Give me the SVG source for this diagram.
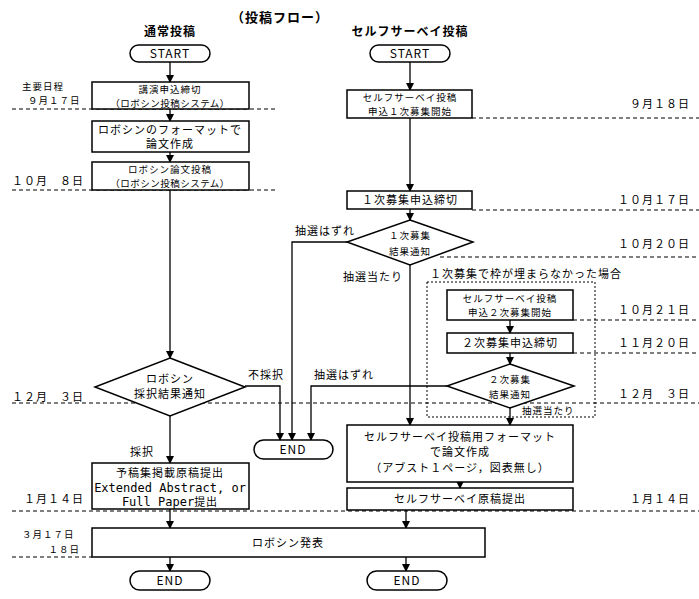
<svg xmlns="http://www.w3.org/2000/svg" width="699" height="599" viewBox="0 0 699 599">
<style>
text{font-family:"Noto Sans CJK JP","Noto Sans",sans-serif;font-size:11px;fill:#000;text-anchor:middle;letter-spacing:1px}
.l{text-anchor:start}.r{text-anchor:end}
.s{font-size:9.5px}
.b{fill:#fff;stroke:#000;stroke-width:1.5}
.c{fill:none;stroke:#000;stroke-width:1.3}
.d{stroke:#000;stroke-width:1.2;stroke-dasharray:4,3}
.dot{fill:none;stroke:#000;stroke-width:1;stroke-dasharray:2,2}
.m{font-family:"DejaVu Sans Mono","Liberation Mono",monospace;font-size:12px;letter-spacing:0}
.h{font-size:13px;font-weight:bold}
</style>
<defs><marker id="a" markerWidth="8" markerHeight="8" refX="7" refY="4" orient="auto" markerUnits="userSpaceOnUse"><path d="M0,0L8,4L0,8z"/></marker></defs>
<g id="dashes">
<line class="d" x1="12" y1="109" x2="276" y2="109"/>
<line class="d" x1="12" y1="190" x2="276" y2="190"/>
<line class="d" x1="472" y1="118" x2="699" y2="118"/>
<line class="d" x1="472" y1="210" x2="699" y2="210"/>
<line class="d" x1="440" y1="257" x2="699" y2="257"/>
<line class="d" x1="573" y1="320" x2="699" y2="320"/>
<line class="d" x1="573" y1="353" x2="699" y2="353"/>
<line class="d" x1="12" y1="403" x2="699" y2="403"/>
<line class="d" x1="12" y1="511" x2="699" y2="511"/>
<line class="d" x1="12" y1="557" x2="92" y2="557"/>
</g>
<g id="connectors">
<path class="c" marker-end="url(#a)" d="M170,62V82"/>
<path class="c" marker-end="url(#a)" d="M170,109V121"/>
<path class="c" marker-end="url(#a)" d="M170,152V162"/>
<path class="c" marker-end="url(#a)" d="M170,190V358"/>
<path class="c" marker-end="url(#a)" d="M245,386H280V440"/>
<path class="c" marker-end="url(#a)" d="M170,416V463"/>
<path class="c" marker-end="url(#a)" d="M410,62V90"/>
<path class="c" marker-end="url(#a)" d="M410,118V191"/>
<path class="c" marker-end="url(#a)" d="M410,209V220"/>
<path class="c" marker-end="url(#a)" d="M347,242H292V440"/>
<path class="c" marker-end="url(#a)" d="M410,265V425"/>
<path class="c" marker-end="url(#a)" d="M510,320V333"/>
<path class="c" marker-end="url(#a)" d="M510,353V364"/>
<path class="c" marker-end="url(#a)" d="M447,386H311V440"/>
<path class="c" marker-end="url(#a)" d="M510,408V425"/>
<path class="c" marker-end="url(#a)" d="M460,482V488"/>
<path class="c" marker-end="url(#a)" d="M170,509V528"/>
<path class="c" marker-end="url(#a)" d="M406,510V528"/>
<path class="c" marker-end="url(#a)" d="M170,557V571"/>
<path class="c" marker-end="url(#a)" d="M406,557V571"/>
</g>
<rect class="dot" x="427" y="282" width="168" height="135"/>
<text x="280" y="22" class="h">（投稿フロー）</text>
<text x="170" y="36" class="h" style="font-size:12px">通常投稿</text>
<text x="410" y="36" class="h" style="font-size:12px">セルフサーベイ投稿</text>
<g id="start1"><rect class="b" x="130" y="45" width="80" height="17" rx="8.5"/><text x="170" y="58" style="font-size:12px">START</text></g>
<g id="start2"><rect class="b" x="370" y="45" width="80" height="17" rx="8.5"/><text x="410" y="58" style="font-size:12px">START</text></g>
<g id="n1"><rect class="b" x="92" y="82" width="157" height="27"/><text x="170" y="93" class="s">講演申込締切</text><text x="170" y="107" class="s" style="letter-spacing:0.5px">（ロボシン投稿システム）</text></g>
<g id="n2"><rect class="b" x="92" y="121" width="157" height="31"/><text x="170" y="134">ロボシンのフォーマットで</text><text x="170" y="148">論文作成</text></g>
<g id="n3"><rect class="b" x="92" y="162" width="157" height="28"/><text x="170" y="173" class="s">ロボシン論文投稿</text><text x="170" y="187" class="s" style="letter-spacing:0.5px">（ロボシン投稿システム）</text></g>
<g id="d1"><path class="b" d="M170,358L245,387L170,416L95,387z"/><text x="170" y="383">ロボシン</text><text x="170" y="398">採択結果通知</text></g>
<g id="n4"><rect class="b" x="92" y="463" width="157" height="46"/><text x="170" y="477">予稿集掲載原稿提出</text><text x="170" y="492" class="m">Extended Abstract, or</text><text x="170" y="506"><tspan class="m">Full Paper</tspan>提出</text></g>
<g id="end1"><rect class="b" x="254" y="440" width="79" height="19" rx="9.5"/><text x="293" y="454" style="font-size:12px">END</text></g>
<g id="s1"><rect class="b" x="347" y="90" width="125" height="28"/><text x="410" y="101" class="s">セルフサーベイ投稿</text><text x="410" y="115" class="s">申込１次募集開始</text></g>
<g id="s2"><rect class="b" x="347" y="191" width="125" height="18"/><text x="410" y="204">１次募集申込締切</text></g>
<g id="sd1"><path class="b" d="M410,220L473,242L410,265L347,242z"/><text x="410" y="239" class="s">１次募集</text><text x="410" y="255" class="s">結果通知</text></g>
<g id="s3"><rect class="b" x="447" y="290" width="126" height="30"/><text x="510" y="302" class="s">セルフサーベイ投稿</text><text x="510" y="316" class="s">申込２次募集開始</text></g>
<g id="s4"><rect class="b" x="447" y="333" width="126" height="20"/><text x="510" y="347">２次募集申込締切</text></g>
<g id="sd2"><path class="b" d="M510,364L574,386L510,408L447,386z"/><text x="510" y="383" class="s">２次募集</text><text x="510" y="398" class="s">結果通知</text></g>
<g id="s5"><rect class="b" x="347" y="425" width="226" height="57"/><text x="460" y="441">セルフサーベイ投稿用フォーマット</text><text x="460" y="456">で論文作成</text><text x="460" y="472">（アブスト１ページ，図表無し）</text></g>
<g id="s6"><rect class="b" x="347" y="488" width="226" height="22"/><text x="460" y="503">セルフサーベイ原稿提出</text></g>
<g id="pres"><rect class="b" x="92" y="528" width="393" height="29"/><text x="288" y="547">ロボシン発表</text></g>
<g id="end2"><rect class="b" x="130" y="571" width="80" height="19" rx="9.5"/><text x="170" y="585" style="font-size:12px">END</text></g>
<g id="end3"><rect class="b" x="367" y="571" width="80" height="19" rx="9.5"/><text x="407" y="585" style="font-size:12px">END</text></g>
<g id="labels">
<text x="22" y="90" class="l s">主要日程</text>
<text x="28" y="104" class="l s">９月１７日</text>
<text x="12" y="185" class="l">１０月　８日</text>
<text x="12" y="401" class="l">１２月　３日</text>
<text x="24" y="503" class="l">１月１４日</text>
<text x="22" y="538" class="l s">３月１７日</text>
<text x="80" y="553" class="r s">１８日</text>
<text x="690" y="108" class="r">９月１８日</text>
<text x="690" y="204" class="r">１０月１７日</text>
<text x="690" y="248" class="r">１０月２０日</text>
<text x="690" y="314" class="r">１０月２１日</text>
<text x="690" y="347" class="r">１１月２０日</text>
<text x="690" y="398" class="r">１２月　３日</text>
<text x="690" y="503" class="r">１月１４日</text>
<text x="248" y="379" class="l">不採択</text>
<text x="314" y="379" class="l">抽選はずれ</text>
<text x="295" y="235" class="l">抽選はずれ</text>
<text x="343" y="281" class="l">抽選当たり</text>
<text x="430" y="278" class="l">１次募集で枠が埋まらなかった場合</text>
<text x="522" y="414" class="l s">抽選当たり</text>
<text x="130" y="456" class="l">採択</text>
</g>
</svg>
